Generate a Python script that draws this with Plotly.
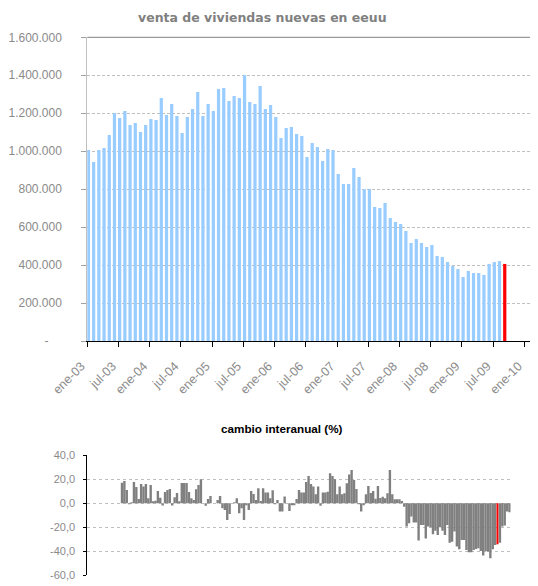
import plotly.graph_objects as go

# ---- data ----
meses_ticks = ["ene-03", "jul-03", "ene-04", "jul-04", "ene-05", "jul-05", "ene-06",
               "jul-06", "ene-07", "jul-07", "ene-08", "jul-08", "ene-09", "jul-09", "ene-10"]

# monthly new home sales (SAAR), ene-03 .. sep-09
ventas = [
    1006000, 943000, 1006000, 1017000, 1085000, 1201000, 1175000, 1212000, 1138000, 1148000, 1101000, 1138000,
    1170000, 1164000, 1280000, 1191000, 1249000, 1185000, 1096000, 1180000, 1222000, 1312000, 1185000, 1249000,
    1212000, 1328000, 1333000, 1264000, 1291000, 1280000, 1401000, 1259000, 1249000, 1343000, 1222000, 1243000,
    1180000, 1069000, 1122000, 1127000, 1090000, 1080000, 969000, 1043000, 1022000, 948000, 1011000, 1006000,
    880000, 827000, 827000, 911000, 864000, 801000, 801000, 706000, 701000, 727000, 648000, 627000,
    616000, 579000, 516000, 537000, 516000, 495000, 506000, 448000, 443000, 416000, 395000, 379000,
    337000, 369000, 358000, 358000, 348000, 406000, 416000, 421000, 406000,
]

y_ticks_top = [0, 200000, 400000, 600000, 800000, 1000000, 1200000, 1400000, 1600000]
y_ticks_bottom = [-60, -40, -20, 0, 20, 40]

# year-on-year change (%), leading periods without data
cambio = [
    None, None, None, None, None, None, None, None, None, None, None, None, None, None,
    17.2, 18.6, 11.1, -0.8, 0.8, 17.8, 13.6, 3.6, 16.1, 13.9, 16.1, 4.2, 15.3, 1.4, 2.2, 10.3,
    4.7, -1.9, 9.4, 11.1, 11.9, -1.9, 5.0, 8.6, 1.7, 16.9, 16.9, 16.9, 9.4, 4.2, 2.8, 11.7,
    15.3, 20.0, None, -2.0, 3.6, 6.1, None, None, 2.8, 6.1, -4.2, -5.6, -13.9, -8.9, None, 0.8,
    4.2, -8.3, -4.2, -13.9, -1.4, -5.6, 10.3, 7.8, 2.8, 12.5, 2.0, 12.5, 8.9, 8.9, 4.2, 10.8,
    -0.8, 2.8, -6.9, -6.9, 5.6, None, -6.4, -1.4, -1.4, 3.6, 11.1, 8.9, 8.9, 17.8, 22.8, 16.0,
    13.9, 7.5, 13.9, -2.0, 8.9, 8.9, 9.7, 25.0, 22.8, 20.0, 7.5, 13.9, 7.5, 8.3, 16.7, 24.0,
    27.8, 19.4, 12.0, -0.8, -6.9, -1.4, 7.5, 14.4, 8.5, 10.3, 3.8, 14.4, 4.5, 5.5, 4.2, 8.3,
    27.8, 7.5, 3.3, 3.3, 3.3, 2.0, -2.8, -19.4, -16.7, -11.1, -16.1, -16.1, -31.0, -18.0, -18.0, -29.4,
    -19.4, -20.0, -25.8, -22.8, -26.4, -20.0, -22.8, -26.4, -18.0, -32.8, -32.0, -23.6, -36.0, -38.3, -30.6, -30.6,
    -38.9, -40.8, -40.8, -38.9, -38.0, -37.5, -39.7, -43.6, -39.7, -40.3, -45.8, -38.3, -34.7, -34.2, -32.8, -19.4,
    -18.6, -6.9, -7.5,
]
cambio_destacado = 171  # highlighted period in the lower chart

# ---- styles ----
AZUL = "#99ccff"
ROJO = "#ff0000"
GRIS_BAR = "#808080"
GRIS_TXT = "#8a8a8a"
GRID = "#c0c0c0"
PAGE_W, PAGE_H = 538, 586
BODY = 8                      # default page margin around the figure
W, H = PAGE_W - BODY, PAGE_H - BODY

n_top = len(ventas)
colors_top = [AZUL] * (n_top - 1) + [ROJO]

n_bot = len(cambio)
colors_bot = [ROJO if i == cambio_destacado else GRIS_BAR for i in range(n_bot)]
widths_bot = [0.85 if i == cambio_destacado else 1.0 for i in range(n_bot)]

fig = go.Figure()
fig.add_trace(go.Bar(
    x=list(range(n_top)), y=ventas, width=0.62, offset=-0.09,
    marker=dict(color=colors_top, line=dict(width=0)),
    xaxis="x", yaxis="y", hoverinfo="skip",
))
fig.add_trace(go.Bar(
    x=list(range(n_bot)), y=cambio, width=widths_bot,
    marker=dict(color=colors_bot, line=dict(width=0)),
    xaxis="x2", yaxis="y2", hoverinfo="skip",
))

def px_x(v):
    return (v - BODY) / W

def px_y(v):
    return (PAGE_H - v) / H

top_ticktext = ["-\u00a0\u00a0\u00a0\u00a0" if v == 0 else f"{v:,.0f}".replace(",", ".") for v in y_ticks_top]
bot_ticktext = [f"{v:.1f}".replace(".", ",") for v in y_ticks_bottom]

tickfont_top = dict(family="Liberation Sans, Arial, sans-serif", size=12, color=GRIS_TXT)
tickfont_x = dict(family="Liberation Sans, Arial, sans-serif", size=12.5, color=GRIS_TXT)
tickfont_bot = dict(family="Liberation Sans, Arial, sans-serif", size=11, color=GRIS_TXT)

fig.update_layout(
    width=W, height=H,
    margin=dict(l=0, r=0, t=0, b=0),
    paper_bgcolor="white", plot_bgcolor="white",
    showlegend=False, barmode="overlay",
    xaxis=dict(
        domain=[px_x(87.3), px_x(534.3)], range=[0, 85.9],
        tickvals=list(range(0, 6 * len(meses_ticks), 6)), ticktext=meses_ticks,
        tickangle=-45, ticks="outside", ticklen=5, tickcolor="black", tickwidth=1,
        showline=True, linecolor="black", linewidth=1,
        showgrid=False, zeroline=False, tickfont=tickfont_x,
        ticklabelstandoff=7, ticklabelshift=-6,
        anchor="y", automargin=False,
    ),
    yaxis=dict(
        domain=[px_y(341), px_y(37.3)], range=[0, 1600000],
        tickvals=y_ticks_top, ticktext=top_ticktext,
        ticks="outside", ticklen=5, tickcolor="#a0a0a0",
        showline=True, linecolor=GRID, linewidth=1,
        showgrid=True, gridcolor=GRID, griddash="3px,2px", gridwidth=1,
        zeroline=False, tickfont=tickfont_top, ticklabelstandoff=17,
        anchor="x", automargin=False,
    ),
    xaxis2=dict(
        domain=[px_x(87.3), px_x(510.7)], range=[-0.5, n_bot - 0.5],
        showticklabels=False, ticks="", showline=False, showgrid=False, zeroline=False,
        anchor="y2", automargin=False,
    ),
    yaxis2=dict(
        domain=[px_y(575.3), px_y(455.3)], range=[-60, 40],
        tickvals=y_ticks_bottom, ticktext=bot_ticktext,
        ticks="outside", ticklen=3, tickcolor="black",
        showline=True, linecolor="black", linewidth=1,
        showgrid=True, gridcolor=GRID, griddash="3px,3px", gridwidth=1,
        zeroline=False, tickfont=tickfont_bot, ticklabelstandoff=6,
        anchor="x2", automargin=False,
    ),
    shapes=[
        dict(type="line", xref="x domain", yref="y domain", x0=0, x1=1, y0=1, y1=1,
             line=dict(color="#808080", width=1)),
        dict(type="line", xref="x domain", yref="y domain", x0=1, x1=1, y0=0, y1=1,
             line=dict(color="#808080", width=1)),
    ],
    annotations=[
        dict(text="<b>venta de viviendas nuevas en eeuu</b>", xref="paper", yref="paper",
             x=px_x(262.5), y=1, xanchor="center", yanchor="top", showarrow=False,
             font=dict(family="DejaVu Sans, Verdana, sans-serif", size=12.5, color="#808080")),
        dict(text="<b>cambio interanual (%)</b>", xref="paper", yref="paper",
             x=px_x(281.5), y=px_y(428), xanchor="center", yanchor="middle", showarrow=False,
             font=dict(family="Liberation Sans, Arial, sans-serif", size=11.7, color="black")),
    ],
)

fig.write_html("out.html")
